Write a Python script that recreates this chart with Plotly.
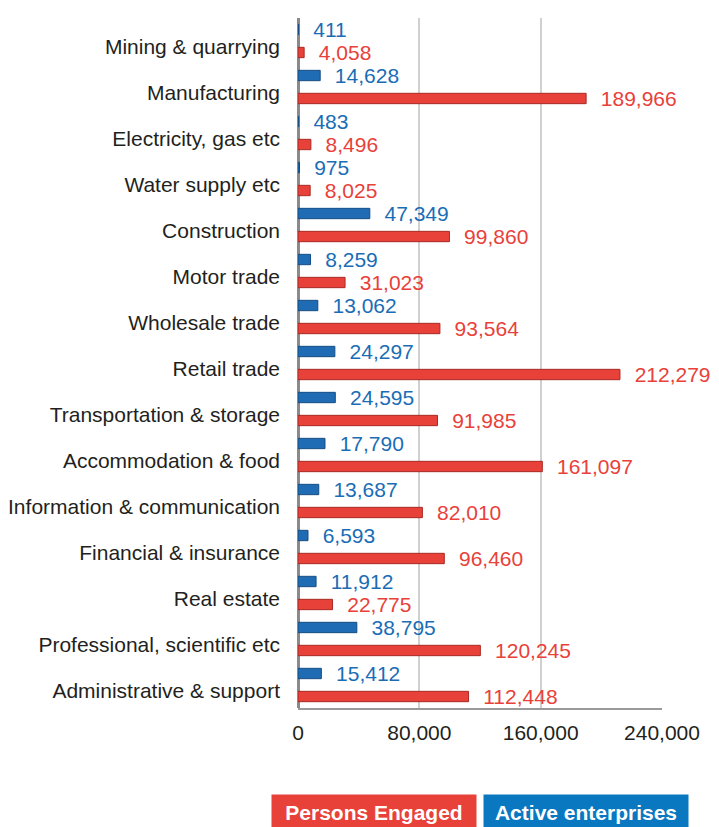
import plotly.graph_objects as go

categories = ["Mining & quarrying", "Manufacturing", "Electricity, gas etc", "Water supply etc",
              "Construction", "Motor trade", "Wholesale trade", "Retail trade",
              "Transportation & storage", "Accommodation & food", "Information & communication",
              "Financial & insurance", "Real estate", "Professional, scientific etc",
              "Administrative & support"]
persons_engaged = [4058, 189966, 8496, 8025, 99860, 31023, 93564, 212279, 91985, 161097,
                   82010, 96460, 22775, 120245, 112448]
active_enterprises = [411, 14628, 483, 975, 47349, 8259, 13062, 24297, 24595, 17790,
                      13687, 6593, 11912, 38795, 15412]
series_names = ["Persons Engaged", "Active enterprises"]
tick_values = [0, 80000, 160000, 240000]

RED = "#e8413a"
BLUE = "#1f6cb5"
FONT = "Liberation Sans, Arial, sans-serif"

fig = go.Figure()
# with the reversed category axis the first trace sits on top of each group
fig.add_trace(go.Bar(
    y=categories, x=active_enterprises, orientation="h", name=series_names[1],
    marker=dict(color=BLUE, line=dict(color="#154c82", width=1)),
    text=[f"{v:,}" for v in active_enterprises], textposition="outside",
    texttemplate="  %{text}", textfont=dict(color="#1a6db5", size=21, family=FONT),
    constraintext="none", cliponaxis=False,
))
fig.add_trace(go.Bar(
    y=categories, x=persons_engaged, orientation="h", name=series_names[0],
    marker=dict(color=RED, line=dict(color="#a82a24", width=1)),
    text=[f"{v:,}" for v in persons_engaged], textposition="outside",
    texttemplate="  %{text}", textfont=dict(color=RED, size=21, family=FONT),
    constraintext="none", cliponaxis=False,
))

fig.update_layout(
    width=711, height=819,
    margin=dict(l=290, r=57, t=10, b=119),
    barmode="group", bargap=0.0, bargroupgap=0.55,
    plot_bgcolor="white", paper_bgcolor="white",
    showlegend=False,
    font=dict(family=FONT, color="#231f20", size=21),
    xaxis=dict(range=[0, 240000], tickvals=tick_values, tickformat=",d",
               showgrid=True, gridcolor="#d0d0d0", gridwidth=2,
               showline=True, linecolor="#9a9a9a", linewidth=2,
               zeroline=True, zerolinecolor="#8a8a8a", zerolinewidth=3,
               ticks="", ticklabelstandoff=5, automargin=False,
               tickfont=dict(size=21, color="#231f20")),
    yaxis=dict(autorange="reversed", showgrid=False, ticks="", automargin=False,
               ticklabelstandoff=17, ticklabelshift=-6,
               tickfont=dict(size=21, color="#231f20")),
)

legend_colors = [RED, "#0a78c0"]
legend_x = [0.209, 0.791]
for name, c, xp in zip(series_names, legend_colors, legend_x):
    fig.add_annotation(xref="paper", yref="paper", x=xp, y=-0.1507,
                       xanchor="center", yanchor="middle",
                       text=f"<b>{name}</b>", showarrow=False,
                       bgcolor=c, width=202, height=32,
                       font=dict(color="white", size=21, family=FONT))

fig.write_html("out.html")
